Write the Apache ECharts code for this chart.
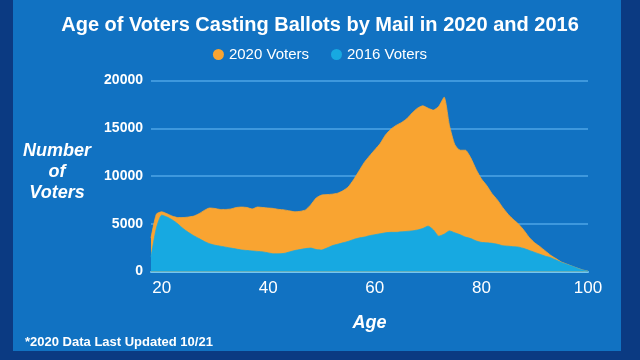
<!DOCTYPE html>
<html>
<head>
<meta charset="utf-8">
<script src="https://cdn.jsdelivr.net/npm/echarts@6/dist/echarts.min.js"></script>
<style>
  html, body { margin: 0; padding: 0; width: 640px; height: 360px; background: #0b3a82; overflow: hidden; }
  #panel { position: absolute; left: 13px; top: 0; width: 608px; height: 351px; background: #1172c2; }
  #chart { position: absolute; left: 0; top: 0; width: 640px; height: 360px; }
</style>
</head>
<body>
<div id="panel"></div>
<div id="chart"></div>
<script>
const ages = [];
for (let a = 18; a <= 100; a++) ages.push(String(a));

const voters2020 = [
  3500, 6000, 6250, 6050, 5800, 5650, 5650, 5700, 5800, 6050,
  6400, 6650, 6600, 6500, 6500, 6550, 6700, 6750, 6700, 6550,
  6750, 6700, 6650, 6600, 6500, 6450, 6350, 6250, 6300, 6450,
  7000, 7700, 8000, 8050, 8100, 8200, 8450, 8850, 9600, 10500,
  11400, 12100, 12750, 13400, 14300, 14900, 15300, 15600, 16000, 16600,
  17100, 17350, 17100, 16900, 17300, 18250, 15300, 13300, 12700, 12700,
  11900, 10700, 9700, 9000, 8150, 7500, 6700, 6000, 5450, 4950,
  4300, 3550, 3000, 2600, 2150, 1700, 1350, 1000, 780, 560,
  360, 160, 40
];

const voters2016 = [
  1500, 4500, 5900, 5700, 5400, 5000, 4500, 4100, 3750, 3450,
  3150, 2900, 2750, 2650, 2550, 2450, 2350, 2250, 2200, 2150,
  2100, 2050, 1950, 1850, 1850, 1900, 2050, 2200, 2300, 2400,
  2450, 2300, 2250, 2450, 2700, 2850, 3000, 3150, 3350, 3500,
  3600, 3750, 3850, 3950, 4050, 4100, 4100, 4150, 4200, 4250,
  4350, 4500, 4750, 4350, 3700, 3900, 4250, 4050, 3850, 3600,
  3450, 3200, 3050, 3000, 2950, 2850, 2700, 2650, 2600, 2550,
  2400, 2200, 2000, 1800, 1600, 1450, 1200, 950, 750, 550,
  350, 150, 30
];

const yTicks = [0, 5000, 10000, 15000, 20000];
const xTickAges = ['20', '40', '60', '80', '100'];

const chart = echarts.init(document.getElementById('chart'), null, { renderer: 'canvas' });
const orange = '#f9a431';
const cyan = '#17a9e1';

chart.setOption({
  animation: false,
  backgroundColor: 'transparent',
  textStyle: { fontFamily: 'Liberation Sans, Arial, sans-serif' },
  title: {
    text: 'Age of Voters Casting Ballots by Mail in 2020 and 2016',
    left: 'center',
    top: 10,
    textStyle: { color: '#ffffff', fontSize: 20, fontWeight: 'bold', fontFamily: 'Liberation Sans, Arial, sans-serif' }
  },
  legend: {
    top: 42,
    left: 'center',
    itemWidth: 11,
    itemHeight: 11,
    itemGap: 22,
    icon: 'circle',
    textStyle: { color: '#ffffff', fontSize: 15, fontFamily: 'Liberation Sans, Arial, sans-serif' },
    data: ['2020 Voters', '2016 Voters']
  },
  grid: { left: 151, right: 52, top: 80.5, bottom: 88.5, containLabel: false },
  xAxis: {
    type: 'category',
    data: ages,
    boundaryGap: false,
    axisLine: { show: true, lineStyle: { color: '#74c6f2', width: 2 } },
    axisTick: { show: false },
    axisLabel: {
      color: '#ffffff',
      fontSize: 17,
      margin: 8,
      interval: function (idx, val) { return xTickAges.indexOf(val) >= 0; },
      formatter: function (v) { return v; }
    },
    splitLine: { show: false },
    name: 'Age',
    nameLocation: 'middle',
    nameGap: 43,
    nameTextStyle: { color: '#ffffff', fontSize: 18, fontWeight: 'bold', fontStyle: 'italic' }
  },
  yAxis: {
    type: 'value',
    min: yTicks[0],
    max: yTicks[yTicks.length - 1],
    interval: 5000,
    axisLine: { show: false },
    axisTick: { show: false },
    axisLabel: { color: '#ffffff', fontSize: 14, fontWeight: 'bold', margin: 8, formatter: function (v) { return String(v); } },
    splitLine: { lineStyle: { color: '#4ea6e6', width: 1.5 } }
  },
  graphic: [
    {
      type: 'text',
      x: 57,
      y: 141,
      style: {
        text: 'Number\nof\nVoters',
        fill: '#ffffff',
        font: 'italic bold 18px "Liberation Sans", Arial, sans-serif',
        align: 'center',
        verticalAlign: 'top',
        lineHeight: 21
      }
    },
    {
      type: 'text',
      left: 25,
      top: 336,
      style: {
        text: '*2020 Data Last Updated 10/21',
        fill: '#ffffff',
        font: 'bold 13px "Liberation Sans", Arial, sans-serif'
      }
    }
  ],
  series: [
    {
      name: '2020 Voters',
      type: 'line',
      data: voters2020,
      symbol: 'none',
      smooth: 0.2,
      lineStyle: { width: 0.8, color: orange },
      itemStyle: { color: orange },
      areaStyle: { color: orange, opacity: 1 },
      z: 2
    },
    {
      name: '2016 Voters',
      type: 'line',
      data: voters2016,
      symbol: 'none',
      smooth: 0.2,
      lineStyle: { width: 0.8, color: cyan },
      itemStyle: { color: cyan },
      areaStyle: { color: cyan, opacity: 1 },
      z: 3
    }
  ]
});
</script>
</body>
</html>
